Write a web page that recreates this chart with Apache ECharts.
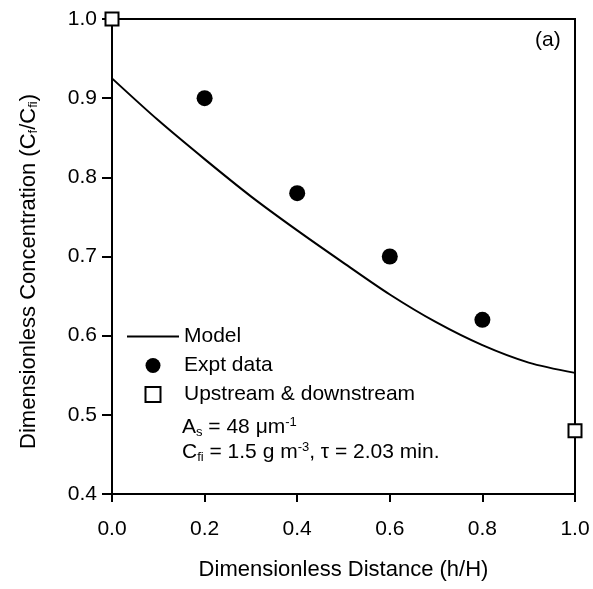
<!DOCTYPE html>
<html>
<head>
<meta charset="utf-8">
<script src="https://cdn.jsdelivr.net/npm/echarts@6/dist/echarts.min.js"></script>
<style>
html,body{margin:0;padding:0;background:#fff;}
#chart{width:593px;height:589px;}
</style>
</head>
<body>
<div id="chart"></div>
<script>
var modelX = [0, 0.1, 0.2, 0.3, 0.4, 0.5, 0.6, 0.7, 0.8, 0.9, 1.0];
var modelY = [0.925, 0.872, 0.823, 0.776, 0.733, 0.692, 0.652, 0.617, 0.588, 0.566, 0.553];
var exptX = [0.2, 0.4, 0.6, 0.8];
var exptY = [0.90, 0.78, 0.70, 0.62];
var boundX = [0, 1.0];
var boundY = [1.0, 0.48];
var seriesNames = ['Model', 'Expt data', 'Upstream & downstream'];

function pairs(xs, ys) { return xs.map(function (x, i) { return [x, ys[i]]; }); }

var FONT = 'Liberation Sans, Arial, Helvetica, sans-serif';
var subStyle = {fontSize: 13, verticalAlign: 'bottom', padding: [10, 0, 0, 0], fontFamily: FONT, color: '#000'};
var supStyle = {fontSize: 13, verticalAlign: 'top', padding: [0, 0, 10, 0], fontFamily: FONT, color: '#000'};
var chart = echarts.init(document.getElementById('chart'), null, {renderer: 'canvas'});
chart.setOption({
  animation: false,
  backgroundColor: '#fff',
  textStyle: {fontFamily: FONT, color: '#000'},
  grid: {left: 112, right: 18, top: 19, bottom: 95, show: true, borderColor: '#000', borderWidth: 2, backgroundColor: 'transparent'},
  xAxis: {
    type: 'value', min: 0, max: 1.0, interval: 0.2,
    name: 'Dimensionless Distance (h/H)', nameLocation: 'middle', nameGap: 65,
    nameTextStyle: {fontSize: 22, color: '#000', fontFamily: FONT},
    axisLine: {lineStyle: {color: '#000', width: 2}},
    axisTick: {length: 8, lineStyle: {color: '#000', width: 2}},
    splitLine: {show: false},
    axisLabel: {fontSize: 21, color: '#000', margin: 25, fontFamily: FONT,
      formatter: function (v) { return v.toFixed(1); }}
  },
  yAxis: {
    type: 'value', min: 0.4, max: 1.0, interval: 0.1,
    name: 'Dimensionless Concentration (C{sub|f}/C{sub|fi})', nameLocation: 'middle', nameGap: 72,
    nameTextStyle: {fontSize: 22, color: '#000', fontFamily: FONT, padding: [0, 30, 0, 0],
      rich: {sub: subStyle}},
    axisLine: {lineStyle: {color: '#000', width: 2}},
    axisTick: {length: 10, lineStyle: {color: '#000', width: 2}},
    splitLine: {show: false},
    axisLabel: {fontSize: 21, color: '#000', margin: 15, fontFamily: FONT,
      formatter: function (v) { return v.toFixed(1); }}
  },
  legend: {
    orient: 'vertical', left: 122, top: 321,
    itemWidth: 52, itemHeight: 15, itemGap: 8,
    selectedMode: false,
    textStyle: {fontSize: 21, color: '#000', fontFamily: FONT},
    data: [
      {name: seriesNames[0], icon: 'path://M0,0L52,0L52,2L0,2Z'},
      {name: seriesNames[1]},
      {name: seriesNames[2], icon: 'path://M0,0L12,0L12,12L0,12Z'}
    ]
  },
  graphic: [
    {type: 'text', left: 535, top: 30, style: {text: '(a)', fontSize: 21, fill: '#000', fontFamily: FONT}},
    {type: 'text', left: 182, top: 416, style: {
      text: 'A{sub|s} = 48 μm{sup|-1}', fontSize: 21, fill: '#000', fontFamily: FONT,
      rich: {sub: subStyle, sup: supStyle}}},
    {type: 'text', left: 182, top: 441, style: {
      text: 'C{sub|fi} = 1.5 g m{sup|-3}, τ = 2.03 min.', fontSize: 21, fill: '#000', fontFamily: FONT,
      rich: {sub: subStyle, sup: supStyle}}}
  ],
  series: [
    {name: seriesNames[0], type: 'line', data: pairs(modelX, modelY), smooth: 0.3, symbol: 'none',
      lineStyle: {color: '#000', width: 2}, itemStyle: {color: '#000'}, emphasis: {disabled: true}},
    {name: seriesNames[1], type: 'scatter', data: pairs(exptX, exptY), symbol: 'circle', symbolSize: 16,
      itemStyle: {color: '#000', opacity: 1}, emphasis: {disabled: true}},
    {name: seriesNames[2], type: 'scatter', data: pairs(boundX, boundY), symbol: 'rect', symbolSize: 13, clip: false,
      itemStyle: {color: '#fff', borderColor: '#000', borderWidth: 2, opacity: 1}, z: 5, emphasis: {disabled: true}}
  ]
});
</script>
</body>
</html>
